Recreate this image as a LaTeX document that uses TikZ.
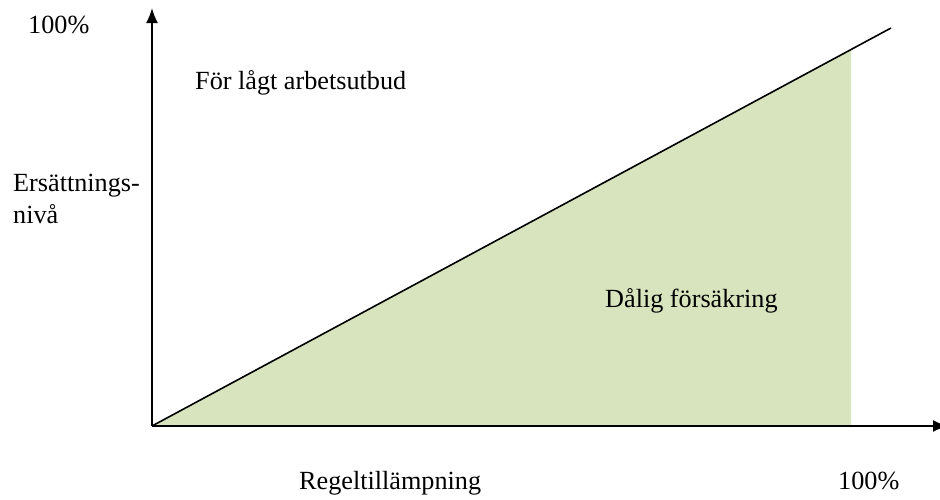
\documentclass[tikz,border=0pt]{standalone}
\usepackage{fontspec}
\setmainfont{Liberation Serif}
\usetikzlibrary{arrows.meta}
\definecolor{fillgreen}{HTML}{D7E4BD}
\begin{document}
\begin{tikzpicture}[x=1pt,y=-1pt,
  lbl/.style={anchor=base west,inner sep=0pt,font=\fontsize{26.2}{30}\selectfont},
  axis/.style={line width=1.8pt,-{Latex[length=15pt,width=12pt]}},
  diag/.style={line width=1.6pt}]
\useasboundingbox (0,0) rectangle (940,499);
\coordinate (O) at (152,426);
\coordinate (ytop) at (152,8);
\coordinate (xend) at (948,426);
\coordinate (L) at (891,28);
\coordinate (F) at (851,49.5);
\coordinate (Fb) at (851,426);
\fill[fillgreen] (O) -- (F) -- (Fb) -- cycle;
\draw[axis] (O) -- (ytop);
\draw[axis] (O) -- (xend);
\draw[diag] (O) -- (L);
\node[lbl] (ytick) at (28,33) {100\%};
\node[lbl] (low) at (195,89) {För lågt arbetsutbud};
\node[lbl,align=left,font=\fontsize{26.2}{30}\selectfont] (ylab) at (13,223) {Ersättnings-\\[2pt]nivå};
\node[lbl] (bad) at (605,307) {Dålig försäkring};
\node[lbl] (xlab) at (299,489) {Regeltillämpning};
\node[lbl] (xtick) at (838,489) {100\%};
\end{tikzpicture}
\end{document}
